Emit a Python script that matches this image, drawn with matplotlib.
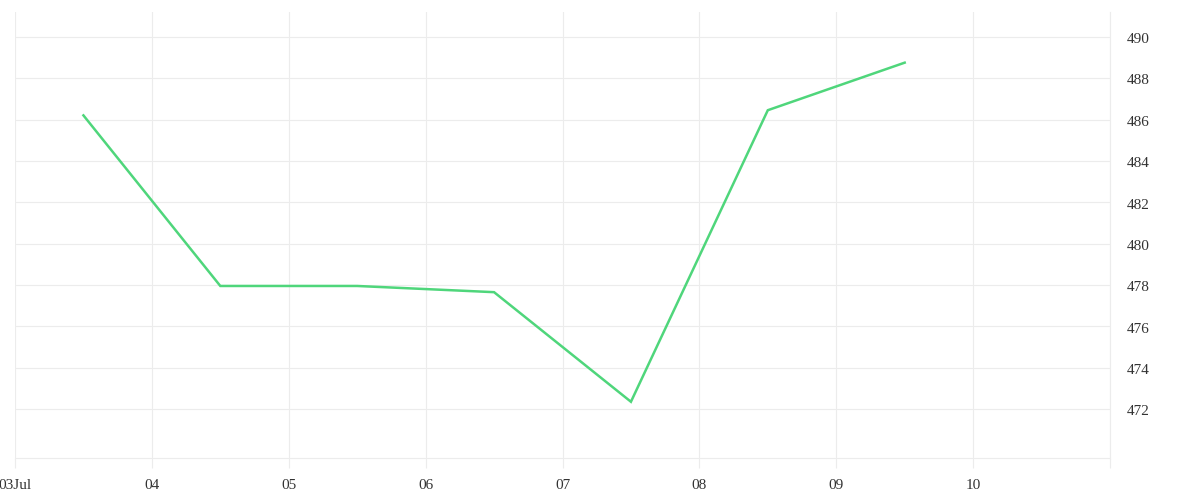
import matplotlib
matplotlib.use("Agg")
import matplotlib.pyplot as plt
import matplotlib.transforms as mtrans
from datetime import datetime

dates = ["2024-07-03 12:00", "2024-07-04 12:00", "2024-07-05 12:00", "2024-07-06 12:00",
         "2024-07-07 12:00", "2024-07-08 12:00", "2024-07-09 12:00"]
values = [486.2, 477.95, 477.95, 477.65, 472.35, 486.45, 488.75]
x_tick_days = ["2024-07-03", "2024-07-04", "2024-07-05", "2024-07-06",
               "2024-07-07", "2024-07-08", "2024-07-09", "2024-07-10", "2024-07-11"]
x_tick_labels = ["03Jul", "04", "05", "06", "07", "08", "09", "10", ""]
y_ticks = [472, 474, 476, 478, 480, 482, 484, 486, 488, 490]

plt.rcParams['font.family'] = ['Liberation Serif', 'DejaVu Serif']

fig = plt.figure(figsize=(12, 5), dpi=100)
ax = fig.add_axes([15/1200, 42/500, 1095/1200, 446/500])

xd = [datetime.strptime(d, "%Y-%m-%d %H:%M") for d in dates]
xt = [datetime.strptime(d, "%Y-%m-%d") for d in x_tick_days]

ax.plot(xd, values, color="#4fd67b", linewidth=1.8, solid_joinstyle="miter")

ax.set_xlim(xt[0], xt[-1])
ax.set_ylim(469.63, 491.2)
ax.set_xticks(xt)
ax.set_xticklabels(x_tick_labels)
ax.set_yticks(y_ticks)
ax.set_yticklabels([str(v) for v in y_ticks])

grid_c = "#ececec"
ax.grid(True, color=grid_c, linewidth=0.8)
for s in ["top", "left"]:
    ax.spines[s].set_visible(False)
for s in ["right", "bottom"]:
    ax.spines[s].set_color(grid_c)
    ax.spines[s].set_linewidth(0.8)

ax.yaxis.tick_right()
ax.tick_params(axis="y", length=0, pad=12, labelsize=11, labelcolor="#333333")
ax.tick_params(axis="x", length=7, color=grid_c, width=0.8, pad=8, labelsize=11, labelcolor="#333333")
off = mtrans.ScaledTranslation(0, -2/72, fig.dpi_scale_trans)
for t in ax.yaxis.get_major_ticks():
    t.label2.set_va("center")
    t.label2.set_transform(t.label2.get_transform() + off)

fig.savefig("out.png", dpi=100, facecolor="white")
